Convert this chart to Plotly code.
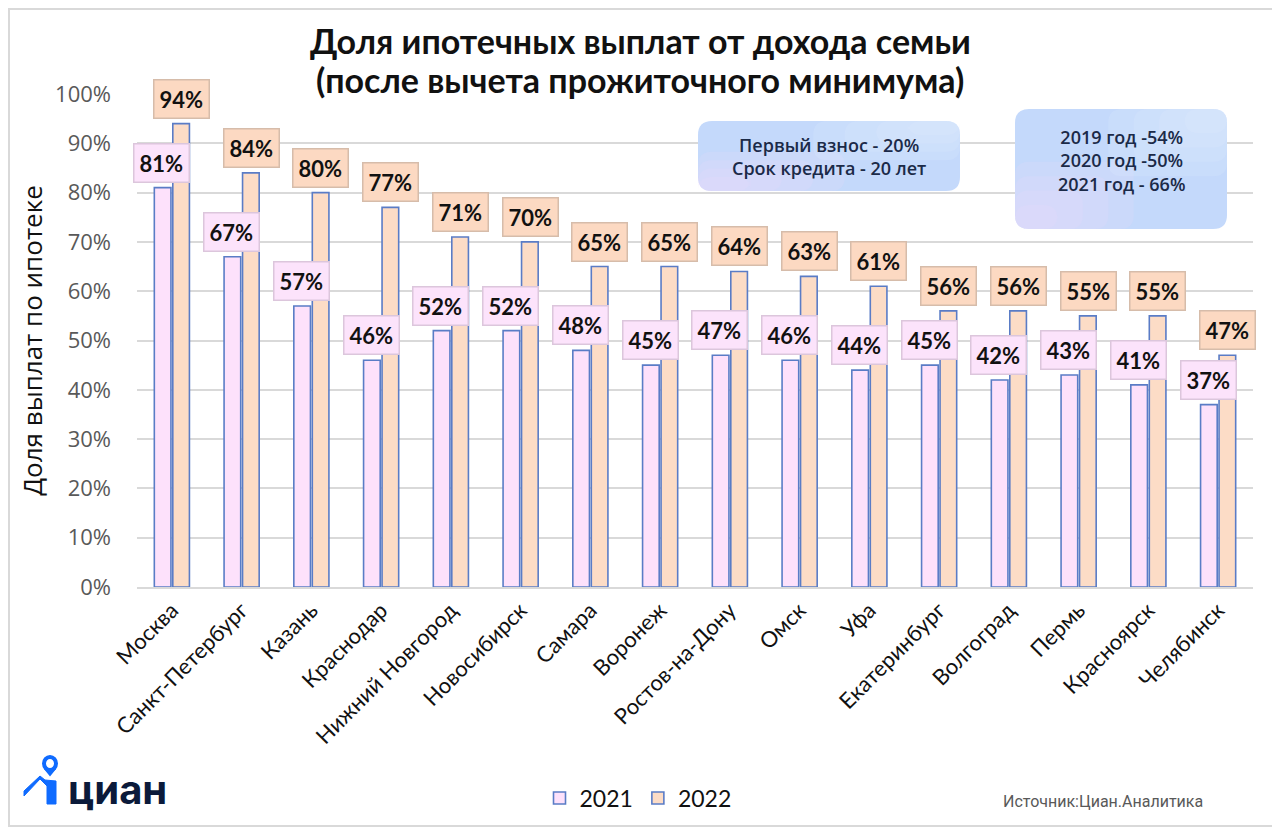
import plotly.graph_objects as go

cities = ["Москва", "Санкт-Петербург", "Казань", "Краснодар", "Нижний Новгород",
          "Новосибирск", "Самара", "Воронеж", "Ростов-на-Дону", "Омск", "Уфа",
          "Екатеринбург", "Волгоград", "Пермь", "Красноярск", "Челябинск"]
v2021 = [81, 67, 57, 46, 52, 52, 48, 45, 47, 46, 44, 45, 42, 43, 41, 37]
v2022 = [94, 84, 80, 77, 71, 70, 65, 65, 64, 63, 61, 56, 56, 55, 55, 47]
yticks = [0, 10, 20, 30, 40, 50, 60, 70, 80, 90, 100]

OFF = 8  # page body margin
W, H = 1280 - OFF, 828 - OFF
# plot area in page pixels
L, R, T, B = 137, 1253, 94, 587

def px(x):
    return (x - L) / (R - L)

def py(y):
    return (B - y) / (B - T)

fig = go.Figure()
fig.add_trace(go.Bar(name="2021", x=cities, y=v2021, marker_color="#fde1fb",
                     marker_line_color="#5a7cc6", marker_line_width=1.6))
fig.add_trace(go.Bar(name="2022", x=cities, y=v2022, marker_color="#fcdcc6",
                     marker_line_color="#5a7cc6", marker_line_width=1.6))

ann = []
n = len(cities)
for i in range(n):
    for j, (vals, bg, bc) in enumerate([(v2021, "#fce3fb", "#dcc6dc"), (v2022, "#fcd9c2", "#d6bcaa")]):
        ann.append(dict(x=cities[i], y=vals[i], xref="x", yref="y",
                        xshift=(-10 if j == 0 else 9.5), yshift=5,
                        text=f"<b>{vals[i]}%</b>", showarrow=False, yanchor="bottom",
                        font=dict(family="Lato", size=22, color="#111111"),
                        bgcolor=bg, bordercolor=bc, borderwidth=1.5, borderpad=5))

# title (two lines)
for txt, yy in [("Доля ипотечных выплат от дохода семьи", 40),
                ("(после вычета прожиточного минимума)", 80)]:
    ann.append(dict(x=px(640), y=py(yy), xref="paper", yref="paper", showarrow=False,
                    text=f"<b>{txt}</b>", xanchor="center", yanchor="middle",
                    font=dict(family="Lato", size=34, color="#111111")))

def rrect(x0, y0, x1, y1, r):
    X0, X1 = px(x0), px(x1)
    Y0, Y1 = py(y1), py(y0)
    rx = r / (R - L)
    ry = r / (B - T)
    return (f"M {X0+rx},{Y0} L {X1-rx},{Y0} Q {X1},{Y0} {X1},{Y0+ry} L {X1},{Y1-ry} "
            f"Q {X1},{Y1} {X1-rx},{Y1} L {X0+rx},{Y1} Q {X0},{Y1} {X0},{Y1-ry} "
            f"L {X0},{Y0+ry} Q {X0},{Y0} {X0+rx},{Y0} Z")

shapes = []
for (x0, y0, x1, y1) in [(698, 121, 960, 191), (1015, 109, 1227, 229)]:
    shapes.append(dict(type="path", xref="paper", yref="paper", path=rrect(x0, y0, x1, y1, 14),
                       fillcolor="#c4d9fb", line=dict(width=0), layer="above"))
    for k in range(4):
        f = 0.2 + 0.12 * k
        shapes.append(dict(type="path", xref="paper", yref="paper",
                           path=rrect(x0, y1 - (y1 - y0) * f, x0 + (x1 - x0) * f, y1, 14),
                           fillcolor="rgba(238,214,248,0.18)", line=dict(width=0), layer="above"))
        shapes.append(dict(type="path", xref="paper", yref="paper",
                           path=rrect(x1 - (x1 - x0) * f, y0, x1, y0 + (y1 - y0) * f, 14),
                           fillcolor="rgba(225,238,255,0.18)", line=dict(width=0), layer="above"))

ann.append(dict(x=px(829), y=py(156), xref="paper", yref="paper", showarrow=False,
                xanchor="center", yanchor="middle",
                text="Первый взнос - 20%<br>Срок кредита - 20 лет",
                font=dict(family="Open Sans", size=18, color="#1b2a48", weight=600)))
ann.append(dict(x=px(1121), y=py(160), xref="paper", yref="paper", showarrow=False,
                xanchor="center", yanchor="middle",
                text="2019 год -54%<br>2020 год -50%<br>2021 год - 66%",
                font=dict(family="Open Sans", size=18, color="#1b2a48", weight=600)))

# logo
ann.append(dict(x=px(66), y=py(790), xref="paper", yref="paper", showarrow=False,
                xanchor="left", yanchor="middle", text="<b>циан</b>",
                font=dict(family="Inter", size=40, color="#0b1a3a")))
shapes.append(dict(type="circle", xref="paper", yref="paper",
                   x0=px(44), x1=px(56), y0=py(770), y1=py(757),
                   line=dict(color="#0f6bff", width=4), layer="above"))
shapes.append(dict(type="path", xref="paper", yref="paper",
                   path=f"M {px(50)},{py(775)} L {px(46)},{py(770)} L {px(54)},{py(770)} Z",
                   fillcolor="#0f6bff", line=dict(color="#0f6bff", width=2), layer="above"))
shapes.append(dict(type="path", xref="paper", yref="paper",
                   path=(f"M {px(24)},{py(796)} L {px(40)},{py(779)} L {px(47)},{py(786)} "
                         f"L {px(47)},{py(804)} L {px(56)},{py(804)} L {px(56)},{py(781)} "
                         f"L {px(45)},{py(780)} L {px(40)},{py(776)} L {px(24)},{py(791)} Z"),
                   fillcolor="#0f6bff", line=dict(color="#0f6bff", width=1), layer="above"))

# source
ann.append(dict(x=px(1205), y=py(801), xref="paper", yref="paper", showarrow=False,
                xanchor="right", yanchor="middle", text="Источник:Циан.Аналитика",
                font=dict(family="Liberation Sans Narrow, Roboto", size=16, color="#595959")))

# frame
shapes.append(dict(type="rect", xref="paper", yref="paper",
                   x0=px(OFF + 1), x1=px(1278), y0=py(826), y1=py(OFF + 1),
                   line=dict(color="#d9d9d9", width=2), layer="below"))

fig.update_layout(
    width=W, height=H,
    margin=dict(l=L - OFF, r=1280 - R, t=T - OFF, b=828 - B, autoexpand=False),
    paper_bgcolor="white", plot_bgcolor="white",
    barmode="group", bargap=0.47, bargroupgap=0.1,
    font=dict(family="Lato", color="#111111"),
    annotations=ann, shapes=shapes,
    showlegend=True,
    legend=dict(orientation="h", x=(638 - OFF) / W, xanchor="center", xref="container",
                yref="container", y=1 - (798 - OFF) / H, yanchor="middle",
                font=dict(family="Lato", size=23, color="#111111"),
                itemwidth=30, traceorder="normal"),
    xaxis=dict(tickangle=-45, tickfont=dict(family="Lato", size=22, color="#111111"),
               showgrid=False, showline=True, linecolor="#d9d9d9", linewidth=1.5,
               ticks="", range=[-0.5, n - 0.5], automargin=False),
    yaxis=dict(range=[0, 100], tickvals=yticks, ticktext=[f"{t}%" for t in yticks],
               tickfont=dict(family="Open Sans", size=22, color="#595959"),
               gridcolor="#d9d9d9", gridwidth=1.5, zeroline=False, showline=False,
               ticks="", ticklabelstandoff=25, automargin=False,
               title=dict(text="Доля выплат по ипотеке", standoff=4,
                          font=dict(family="Open Sans", size=26, color="#111111"))),
)

fig.write_html("out.html")
